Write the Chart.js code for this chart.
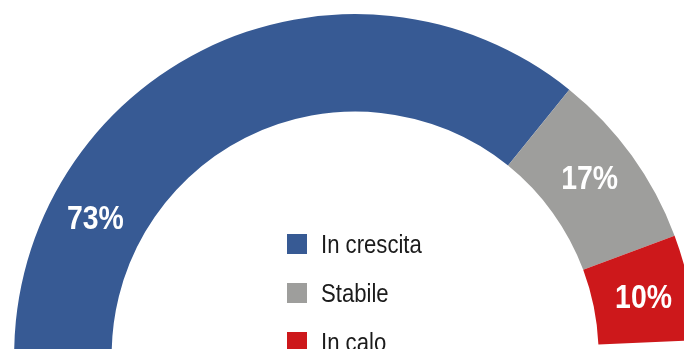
<!DOCTYPE html>
<html>
<head>
<meta charset="utf-8">
<script src="https://cdn.jsdelivr.net/npm/chart.js@4.4.1/dist/chart.umd.min.js"></script>
<style>
  html, body { margin: 0; padding: 0; background: #fff; }
  #wrap { position: relative; width: 684px; height: 349px; overflow: hidden; }
  #quota { position: absolute; left: 0; top: 0; }
  #legenda {
    position: absolute; left: 287px; top: 234px;
    margin: 0; padding: 0; list-style: none;
    font-family: "Liberation Sans", Arial, sans-serif;
    font-size: 25px; color: #1b1b1b;
  }
  #legenda li { display: flex; align-items: center; height: 20px; line-height: 20px; margin-bottom: 29px; white-space: nowrap; }
  #legenda span.box { display: inline-block; width: 20px; height: 20px; margin-right: 14px; flex: none; }
  #legenda span.txt { display: inline-block; transform: scaleX(0.885); transform-origin: 0 50%; }
</style>
</head>
<body>
<div id="wrap">
  <canvas id="quota" width="684" height="349"></canvas>
  <ul id="legenda"></ul>
</div>
<script>
// quote di aziende per andamento
const categories = ['In crescita', 'Stabile', 'In calo'];
const shares = [73, 17, 10];
const colours = ['#375a94', '#9e9e9c', '#cd181b'];

// scritte bianche sugli archi; "along" = punto lungo l'arco (0..1)
const arcLabels = {
  id: 'arcLabels',
  afterDatasetsDraw(chart, args, opts) {
    const ctx = chart.ctx;
    const meta = chart.getDatasetMeta(0);
    const size = opts.size;
    ctx.save();
    ctx.font = 'bold ' + size + 'px "Liberation Sans", Arial, sans-serif';
    ctx.fillStyle = '#fff';
    ctx.textAlign = 'center';
    ctx.textBaseline = 'alphabetic';
    meta.data.forEach((arc, i) => {
      const p = arc.getProps(['x', 'y', 'startAngle', 'endAngle', 'innerRadius', 'outerRadius'], true);
      const a = p.startAngle + (p.endAngle - p.startAngle) * opts.along[i];
      const r = (p.innerRadius + p.outerRadius) / 2 + 2;
      const v = chart.data.datasets[0].data[i];
      ctx.save();
      ctx.translate(p.x + Math.cos(a) * r, p.y + Math.sin(a) * r + size * 0.36);
      ctx.scale(opts.squeeze, 1);
      ctx.fillText(v + '%', 0, 0);
      ctx.restore();
    });
    ctx.restore();
  }
};

const chart = new Chart(document.getElementById('quota'), {
  type: 'doughnut',
  data: {
    labels: categories,
    datasets: [{
      data: shares,
      backgroundColor: colours,
      borderWidth: 0,
      clip: false
    }]
  },
  options: {
    responsive: false,
    animation: false,
    rotation: -92.5,
    circumference: 180,
    radius: 341,
    cutout: '71.4%',
    layout: { padding: { left: 26, top: 35 } },
    plugins: {
      legend: { display: false },
      tooltip: { enabled: false },
      arcLabels: { size: 33, squeeze: 0.86, along: [0.232, 0.455, 0.5] }
    }
  },
  plugins: [arcLabels]
});

// legenda al centro del semicerchio
const ul = document.getElementById('legenda');
categories.forEach((c, i) => {
  const li = document.createElement('li');
  const box = document.createElement('span');
  box.className = 'box';
  box.style.background = colours[i];
  const txt = document.createElement('span');
  txt.className = 'txt';
  txt.textContent = c;
  li.appendChild(box);
  li.appendChild(txt);
  ul.appendChild(li);
});
</script>
</body>
</html>
